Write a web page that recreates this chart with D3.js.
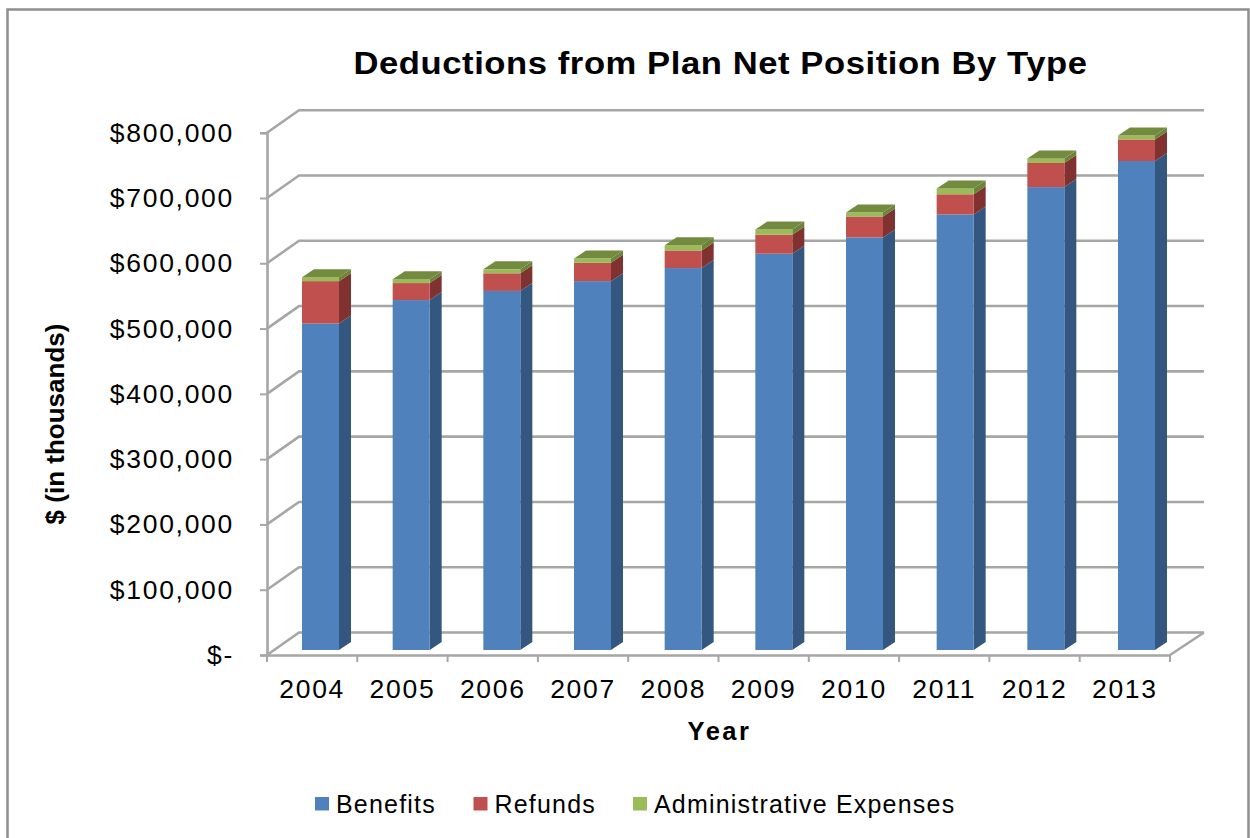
<!DOCTYPE html>
<html>
<head>
<meta charset="utf-8">
<style>
  html, body { margin: 0; padding: 0; background: #fff; }
  svg { display: block; font-family: "Liberation Sans", Arial, sans-serif; }
</style>
<script src="https://cdn.jsdelivr.net/npm/d3@7/dist/d3.min.js"></script>
</head>
<body>
<svg id="chart" width="1250" height="838"></svg>
<script>
// Annual plan deductions, in thousands of dollars
const years = ["2004","2005","2006","2007","2008","2009","2010","2011","2012","2013"];
const benefits = [500000,536000,550000,565000,585000,607000,632000,667000,709000,749000];
const refunds = [65000,26000,27000,28000,27000,29000,32000,31000,37000,33000];
const adminExpenses = [6000,6000,6000,6500,8000,8000,6000,9000,7000,6000];
const seriesNames = ["Benefits","Refunds","Administrative Expenses"];
const yTicks = [0,100000,200000,300000,400000,500000,600000,700000,800000];

const frontColors = ["#4f81bd","#c0504d","#9bbb59"];
const sideColors = ["#34577f","#7f322f","#6c8439"];
const topColor = "#728b3f";
const gridColor = "#a6a6a6";

const svg = d3.select("#chart");

// Outer frame of the chart area
svg.append("path")
  .attr("d", "M7.5,840V9.5H1248.5V840")
  .attr("fill", "none").attr("stroke", "#8f8f8f").attr("stroke-width", 2.5);

// Front plane of the pseudo-3D plot box
const y = d3.scaleLinear().domain([0,800000]).range([655,132.7]);
const xAxisScale = d3.scaleBand().domain(years).range([267,1170]);
const xBar = d3.scalePoint().domain(years).range([302,1118]);
const barWidth = 37;
const wall = {dx: 32, dy: 22.5, right: 1204};
const barDepth = {dx: 12, dy: 8};
const barLift = 5;

// Back wall gridlines with their diagonal run along the side wall
const gridG = svg.append("g");
gridG.selectAll("path").data(yTicks).join("path")
  .attr("d", d => {
    const p = d3.path();
    p.moveTo(267, y(d));
    p.lineTo(267 + wall.dx, y(d) - wall.dy);
    p.lineTo(wall.right, y(d) - wall.dy);
    return p.toString();
  })
  .attr("fill","none").attr("stroke",gridColor).attr("stroke-width",2.6);
// Right edge of the floor
gridG.append("path")
  .attr("d", `M1170,${y(0)}L${wall.right},${y(0)-wall.dy}`)
  .attr("fill","none").attr("stroke",gridColor).attr("stroke-width",2.6);

// Axes
const axisLeft = d3.axisLeft(y).tickValues(yTicks).tickSize(7).tickPadding(26)
  .tickFormat(d => d === 0 ? "$-" : d3.format("$,")(d));
const axisBottom = d3.axisBottom(xAxisScale).tickSize(0).tickPadding(24);

const gy = svg.append("g").attr("transform","translate(267,0)").call(axisLeft);
const gx = svg.append("g").attr("transform",`translate(0,${y(0)})`).call(axisBottom);
gx.selectAll(".tick line").remove();
gx.selectAll(".tick text").attr("dy", "0.71em");
// Category boundary ticks along the front floor edge
gx.selectAll("line.bound").data([...years.map(v => xAxisScale(v)), 1170]).join("line")
  .attr("class","bound")
  .attr("x1", d => d).attr("x2", d => d).attr("y1",0).attr("y2",7)
  .attr("stroke",gridColor).attr("stroke-width",2);
[gy,gx].forEach(g => {
  g.selectAll(".domain").attr("stroke",gridColor).attr("stroke-width",2.6);
  g.selectAll(".tick text").attr("font-size",26.5).attr("fill","#000")
    .attr("font-family","'Liberation Sans', Arial, sans-serif")
    .style("letter-spacing","1.7px");
});
gy.selectAll(".tick line").attr("stroke",gridColor).attr("stroke-width",2);

// Stacked columns: front face, side face and a cap on the top segment
const rows = years.map((yr,i) => ({year: yr, Benefits: benefits[i], Refunds: refunds[i], "Administrative Expenses": adminExpenses[i]}));
const stacked = d3.stack().keys(seriesNames)(rows);
const yBar = v => y(v) - barLift;

const barsG = svg.append("g");
stacked.forEach((layer, s) => {
  const g = barsG.append("g");
  g.selectAll("path.side").data(layer).join("path").attr("class","side")
    .attr("fill", sideColors[s])
    .attr("d", d => {
      const x1 = xBar(d.data.year) + barWidth;
      return `M${x1},${yBar(d[0])}L${x1+barDepth.dx},${yBar(d[0])-barDepth.dy}L${x1+barDepth.dx},${yBar(d[1])-barDepth.dy}L${x1},${yBar(d[1])}Z`;
    });
  g.selectAll("rect").data(layer).join("rect")
    .attr("x", d => xBar(d.data.year))
    .attr("width", barWidth)
    .attr("y", d => yBar(d[1]))
    .attr("height", d => yBar(d[0]) - yBar(d[1]))
    .attr("fill", frontColors[s]);
  if (s === stacked.length - 1) {
    g.selectAll("path.cap").data(layer).join("path").attr("class","cap")
      .attr("fill", topColor)
      .attr("d", d => {
        const x0 = xBar(d.data.year), t = yBar(d[1]);
        return `M${x0},${t}L${x0+barDepth.dx},${t-barDepth.dy}L${x0+barWidth+barDepth.dx},${t-barDepth.dy}L${x0+barWidth},${t}Z`;
      });
  }
});

// Titles
svg.append("text").attr("transform","translate(720.5,73.5) scale(1.117,1)").attr("text-anchor","middle")
  .attr("font-size",31).attr("font-weight","bold").style("letter-spacing","0.5px")
  .text("Deductions from Plan Net Position By Type");
svg.append("text").attr("x",719.5).attr("y",740).attr("text-anchor","middle")
  .attr("font-size",25.5).attr("font-weight","bold").style("letter-spacing","2.5px")
  .text("Year");
svg.append("text").attr("transform","translate(63.5,424) rotate(-90)").attr("text-anchor","middle")
  .attr("font-size",26).attr("font-weight","bold")
  .text("$ (in thousands)");

// Legend
const legendX = [315,473.5,633];
const legend = svg.append("g").selectAll("g").data(seriesNames).join("g")
  .attr("transform",(d,i) => `translate(${legendX[i]},797)`);
legend.append("rect").attr("width",14).attr("height",13.5).attr("fill",(d,i) => frontColors[i]);
legend.append("text").attr("x",21).attr("y",15.5).attr("font-size",25).style("letter-spacing","1.2px").text(d => d);
</script>
</body>
</html>
